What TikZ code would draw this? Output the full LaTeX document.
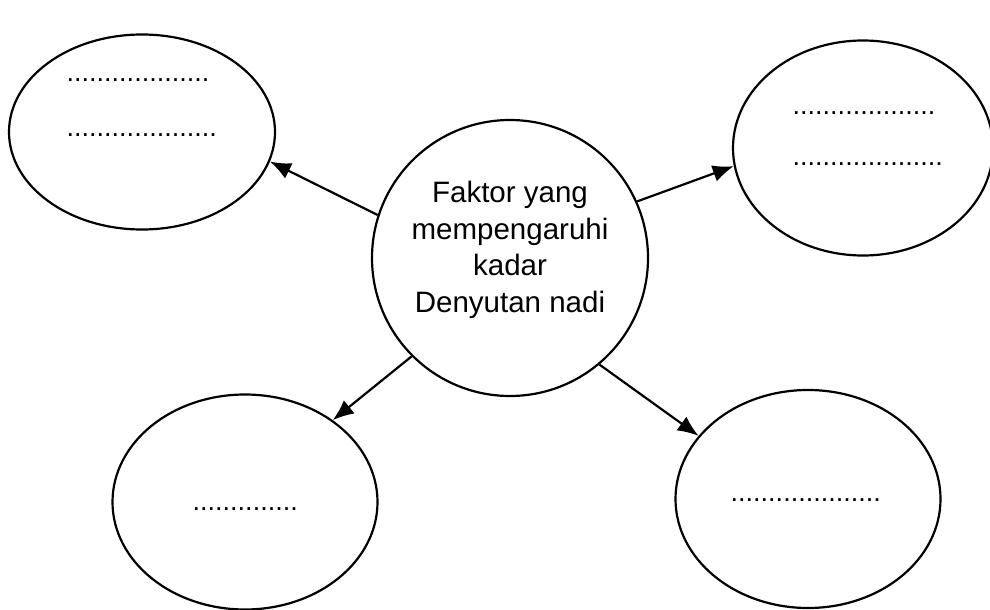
\documentclass[tikz,border=0pt]{standalone}
\usepackage{fontspec}
\setmainfont{Liberation Sans}
\usetikzlibrary{shapes.geometric,arrows.meta}

\begin{document}
\begin{tikzpicture}[x=1pt, y=-1pt,
		bubble/.style={ellipse, draw, line width=2.2pt, inner sep=0pt},
		isian/.style={anchor=base west, inner sep=0pt, font=\fontsize{27}{32}\selectfont},
		link/.style={-{Latex[length=21pt,width=17pt]}, line width=2.2pt}]
		\useasboundingbox (0,0) rectangle (990,610);
		\node[circle, draw, line width=2.2pt, minimum size=276pt, inner sep=0pt] (C) at (510, 258) {};
		\node[align=center, font=\fontsize{29.5}{36.7}\selectfont] (CT) at (510, 250) {Faktor yang\\mempengaruhi\\kadar\\Denyutan nadi};
		\node[bubble, minimum width=266pt, minimum height=195pt] (TL) at (142, 132) {};
		\node[bubble, minimum width=260pt, minimum height=215pt] (TR) at (863, 148) {};
		\node[bubble, minimum width=265pt, minimum height=215pt] (BL) at (245, 502) {};
		\node[bubble, minimum width=265pt, minimum height=218pt] (BR) at (808, 499) {};
		\node[isian] (TL1) at (66.5, 81.5) {...................};
		\node[isian] (TL2) at (66.5, 136) {....................};
		\node[isian] (TR1) at (792.5, 114) {...................};
		\node[isian] (TR2) at (792.5, 165) {....................};
		\node[isian] (BL1) at (192.5, 510) {..............};
		\node[isian] (BR1) at (730.5, 501.5) {....................};
		\draw[link] (C.162) -- (TL.-13);
		\draw[link] (C.24) -- (TR.188);
		\draw[link] (C.225) -- (BL.43);
		\draw[link] (C.-50) -- (BR.150);
	\end{tikzpicture}
\end{document}
